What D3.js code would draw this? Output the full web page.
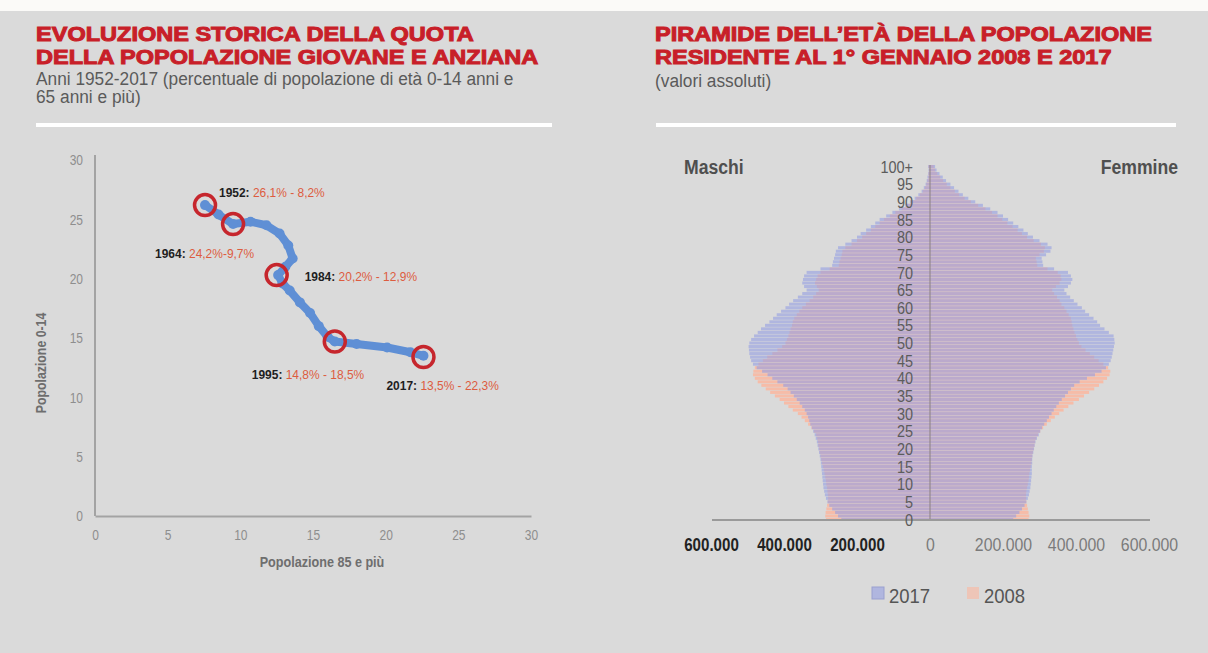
<!DOCTYPE html>
<html>
<head>
<meta charset="utf-8">
<script src="https://cdn.jsdelivr.net/npm/d3@7"></script>
<style>
body { margin:0; background:#dadada; }
svg { display:block; }
text { font-family: "Liberation Sans", Arial, sans-serif; }
.title { font-weight:bold; fill:#c81f29; stroke:#c81f29; stroke-width:1px; font-size:20px; }
.sub { fill:#5a5a5a; font-size:18px; }
</style>
</head>
<body>
<script>
// ---- dati grafico sinistro: quota 65+ (x) e 0-14 (y) ----
var quota65 = [7.57, 8.5, 9.5, 10.7, 11.8, 12.7, 13.3, 13.6, 13.1, 12.6, 12.9, 13.4, 14.1, 14.8, 15.4, 16.0, 16.5, 18.0, 20.1, 21.7, 22.6];
var quota014 = [26.2, 25.4, 24.6, 24.8, 24.5, 23.8, 22.8, 21.7, 21.0, 20.3, 19.6, 19.0, 18.0, 17.1, 16.0, 15.1, 14.7, 14.5, 14.2, 13.8, 13.5];

var anniEvid = ["1952", "1964", "1984", "1995", "2017"];
var evidX = [7.57, 9.5, 12.5, 16.5, 22.6];
var evidY = [26.2, 24.6, 20.3, 14.7, 13.4];
var evidTesto = ["26,1% - 8,2%", "24,2%-9,7%", "20,2% - 12,9%", "14,8% - 18,5%", "13,5% - 22,3%"];
var assiTicks = [0, 5, 10, 15, 20, 25, 30];

// ---- piramide (migliaia), eta 0..100+ ----
var UNIT = 1000;
var eta = d3.range(0, 101);
var etaTicks = [0,5,10,15,20,25,30,35,40,45,50,55,60,65,70,75,80,85,90,95,100];
var maschi2017 = [243,252,260,268,276,281,285,288,290,292, 293,294,295,296,297,298,299,300,302,304,
  306,308,310,313,316,320,324,328,331,334, 338,343,350,357,365,373,382,390,402,418,
  432,445,460,475,485,490,493,495,496,497, 495,490,482,472,463,452,440,430,420,408,
  396,386,375,362,350,338,345,350,348,345, 338,300,268,266,263,260,258,252,232,215,
  200,190,175,162,150,138,120,103,85,68, 55,42,32,23,17,12,9,7,5,4, 5];
var maschi2008 = [285,287,286,284,282,280,279,280,281,282, 284,285,287,289,291,293,296,298,300,302,
  304,306,307,309,312,318,325,334,343,352, 362,376,388,400,412,425,438,450,462,472,
  480,485,484,480,470,458,446,432,418,405, 396,392,388,385,382,378,376,372,365,358,
  350,340,330,320,312,305,310,315,312,308, 300,275,250,248,245,242,240,232,215,200,
  186,175,162,150,138,126,110,95,78,62, 50,38,28,20,14,10,7,5,4,3, 4];
var femmine2017 = [228,236,245,252,259,264,268,271,273,275, 276,277,278,279,279,279,280,280,281,283,
  285,287,289,293,298,302,307,313,320,326, 333,339,346,353,361,370,378,386,395,410,
  430,452,470,482,490,495,498,500,502,504, 506,505,503,490,478,466,458,448,436,425,
  416,404,394,384,374,368,378,386,390,386, 378,340,310,308,306,318,330,333,322,300,
  282,268,256,242,228,214,200,185,165,145, 124,105,90,78,66,56,44,35,26,18, 14];
var femmine2008 = [270,272,270,268,266,264,263,263,264,266, 268,270,271,272,274,276,278,279,280,282,
  284,286,288,291,296,302,310,320,331,342, 354,366,379,393,408,422,436,450,463,475,
  485,492,494,488,475,462,450,438,426,415, 408,404,400,396,393,390,388,386,380,374,
  368,360,355,348,340,335,345,355,360,358, 350,322,294,292,290,300,312,315,304,284,
  266,252,240,226,212,198,185,170,152,132, 112,95,80,68,56,46,36,28,20,14, 10];
var pirTicks = [0, 200000, 400000, 600000];
var legenda = ["2017", "2008"];

var col2017 = "rgb(150,160,226)", col2008 = "#f6bca8";

// comprime/allarga il testo in orizzontale (font "narrow" non disponibile)
function stringi(sel, f) {
  sel.each(function() {
    var l = this.getComputedTextLength();
    d3.select(this).attr("textLength", l * f).attr("lengthAdjust", "spacingAndGlyphs");
  });
  return sel;
}

var svg = d3.select("body").append("svg").attr("width", 1208).attr("height", 653);
svg.append("rect").attr("width", 1208).attr("height", 653).attr("fill", "#dadada");
svg.append("rect").attr("width", 1208).attr("height", 11).attr("fill", "#fbfaf8");

// titoli
function titolo(x, y, t, cls) {
  return svg.append("text").attr("class", cls).attr("x", x).attr("y", y).text(t);
}
stringi(titolo(36, 41, "EVOLUZIONE STORICA DELLA QUOTA", "title"), 1.176);
stringi(titolo(36, 63.5, "DELLA POPOLAZIONE GIOVANE E ANZIANA", "title"), 1.176);
stringi(titolo(36, 85, "Anni 1952-2017 (percentuale di popolazione di età 0-14 anni e", "sub"), 0.96);
stringi(titolo(36, 103, "65 anni e più)", "sub"), 0.96);
stringi(titolo(655, 41, "PIRAMIDE DELL’ETÀ DELLA POPOLAZIONE", "title"), 1.176);
stringi(titolo(655, 63.5, "RESIDENTE AL 1° GENNAIO 2008 E 2017", "title"), 1.176);
stringi(titolo(655, 87, "(valori assoluti)", "sub"), 0.96);
svg.append("rect").attr("x", 36).attr("y", 123).attr("width", 516).attr("height", 4).attr("fill", "#fff");
svg.append("rect").attr("x", 656).attr("y", 123).attr("width", 520).attr("height", 4).attr("fill", "#fff");

// ---------- grafico sinistro ----------
var x = d3.scaleLinear().domain([0, 30]).range([95, 531]);
var y = d3.scaleLinear().domain([0, 30]).range([516, 160]);

var gx = svg.append("g").attr("transform", "translate(0,516)")
  .call(d3.axisBottom(x).tickValues(assiTicks).tickSize(0).tickPadding(13));
var gy = svg.append("g").attr("transform", "translate(95,0)")
  .call(d3.axisLeft(y).tickValues(assiTicks).tickSize(0).tickPadding(12));
[gx, gy].forEach(function(g) {
  g.select(".domain").attr("stroke", "#a3a3a3").attr("stroke-width", 2);
  stringi(g.selectAll("text").attr("fill", "#8e8e8e").attr("font-size", 15)
    .attr("font-family", "Liberation Sans, Arial, sans-serif"), 0.8);
});
gy.select(".domain").attr("d", "M0,155V516");

stringi(svg.append("text").attr("transform", "translate(46,363) rotate(-90)")
  .attr("text-anchor", "middle").attr("font-weight", "bold").attr("font-size", 14)
  .attr("fill", "#6e6e6e").text("Popolazione 0-14"), 0.88);
stringi(svg.append("text").attr("x", 322).attr("y", 567)
  .attr("text-anchor", "middle").attr("font-weight", "bold").attr("font-size", 14)
  .attr("fill", "#6e6e6e").text("Popolazione 85 e più"), 0.9);

var punti = quota65.map(function(d, i) { return [d, quota014[i]]; });
var linea = d3.line().x(function(d) { return x(d[0]); }).y(function(d) { return y(d[1]); });
svg.append("path").datum(punti).attr("d", linea).attr("fill", "none")
  .attr("stroke", "#5f8fd5").attr("stroke-width", 8).attr("stroke-linejoin", "round").attr("stroke-linecap", "round");
svg.selectAll(".mk").data(punti).enter().append("circle").attr("class", "mk")
  .attr("cx", function(d) { return x(d[0]); }).attr("cy", function(d) { return y(d[1]); })
  .attr("r", 5).attr("fill", "#5f8fd5");

var evid = anniEvid.map(function(a, i) { return {anno: a, x: evidX[i], y: evidY[i], t: evidTesto[i]}; });
svg.selectAll(".ring").data(evid).enter().append("circle").attr("class", "ring")
  .attr("cx", function(d) { return x(d.x); }).attr("cy", function(d) { return y(d.y); })
  .attr("r", 10.5).attr("fill", "none").attr("stroke", "#c6262d").attr("stroke-width", 3.5);

// posizione etichette rispetto al cerchio
var offs = [[14, -8], [-78, 34], [28, 6], [-83, 37], [-37, 33]];
var lab = svg.selectAll(".lab").data(evid).enter().append("text").attr("class", "lab")
  .attr("x", function(d, i) { return x(d.x) + offs[i][0]; })
  .attr("y", function(d, i) { return y(d.y) + offs[i][1]; })
  .attr("font-size", 13);
lab.append("tspan").attr("font-weight", "bold").attr("fill", "#1e1e1e").text(function(d) { return d.anno + ": "; });
lab.append("tspan").attr("fill", "#dd5c3f").text(function(d) { return d.t; });
stringi(lab, 0.92);

// ---------- piramide ----------
var cx = 930;
var xM = d3.scaleLinear().domain([0, 600000]).range([cx, 711]);
var xF = d3.scaleLinear().domain([0, 600000]).range([cx, 1149]);
var yA = d3.scaleBand().domain(eta).range([521, 165]).paddingInner(0.14);

function barre(dati, scala, lato, colore, op) {
  svg.append("g").selectAll("rect").data(dati).enter().append("rect")
    .attr("x", function(d) { return lato < 0 ? scala(d * UNIT) : cx; })
    .attr("width", function(d) { return Math.abs(scala(d * UNIT) - cx); })
    .attr("y", function(d, i) { return yA(eta[i]); })
    .attr("height", yA.bandwidth())
    .attr("fill", colore).attr("fill-opacity", op);
}
barre(maschi2008, xM, -1, col2008, 1);
barre(femmine2008, xF, 1, col2008, 1);
barre(maschi2017, xM, -1, col2017, 0.62);
barre(femmine2017, xF, 1, col2017, 0.62);

svg.append("line").attr("x1", cx).attr("x2", cx).attr("y1", 165).attr("y2", 520)
  .attr("stroke", "#8a8080").attr("stroke-width", 1);
svg.append("line").attr("x1", 712).attr("x2", 1150).attr("y1", 520).attr("y2", 520)
  .attr("stroke", "#9a9a9a").attr("stroke-width", 2);

var ga = svg.append("g").attr("transform", "translate(913,0)")
  .call(d3.axisLeft(yA).tickValues(etaTicks).tickSize(0).tickPadding(0)
    .tickFormat(function(d) { return d === 100 ? "100+" : d; }));
ga.select(".domain").remove();
stringi(ga.selectAll("text").attr("fill", "#5c5c5c").attr("font-size", 17)
  .attr("font-family", "Liberation Sans, Arial, sans-serif").attr("dy", "0.36em"), 0.85);

var it = d3.formatLocale({decimal: ",", thousands: ".", grouping: [3], currency: ["", "€"]});
var fmt = it.format(",d");
var gm = svg.append("g").attr("transform", "translate(0,538)")
  .call(d3.axisBottom(xM).tickValues(pirTicks.slice(1)).tickSize(0).tickPadding(0).tickFormat(fmt));
var gf = svg.append("g").attr("transform", "translate(0,538)")
  .call(d3.axisBottom(xF).tickValues(pirTicks).tickSize(0).tickPadding(0).tickFormat(fmt));
gm.select(".domain").remove();
gf.select(".domain").remove();
stringi(gm.selectAll("text").attr("fill", "#222").attr("font-weight", "bold").attr("font-size", 18)
  .attr("font-family", "Liberation Sans, Arial, sans-serif"), 0.84);
stringi(gf.selectAll("text").attr("fill", "#7a7a7a").attr("font-size", 18)
  .attr("font-family", "Liberation Sans, Arial, sans-serif"), 0.88);

stringi(svg.append("text").attr("x", 684).attr("y", 174).attr("font-weight", "bold").attr("font-size", 20)
  .attr("fill", "#4f4f4f").text("Maschi"), 0.88);
stringi(svg.append("text").attr("x", 1178).attr("y", 174).attr("text-anchor", "end").attr("font-weight", "bold")
  .attr("font-size", 20).attr("fill", "#4f4f4f").text("Femmine"), 0.88);

// legenda
var legX = [872, 967];
var legCol = [col2017, col2008];
legenda.forEach(function(l, i) {
  svg.append("rect").attr("x", legX[i]).attr("y", 587).attr("width", 12).attr("height", 12)
    .attr("fill", legCol[i]).attr("fill-opacity", i === 0 ? 0.62 : 0.7)
    .attr("stroke", i === 0 ? "#9aa0cf" : "none");
  stringi(svg.append("text").attr("x", legX[i] + 17).attr("y", 603).attr("font-size", 21)
    .attr("fill", "#555").text(l), 0.88);
});
</script>
</body>
</html>
